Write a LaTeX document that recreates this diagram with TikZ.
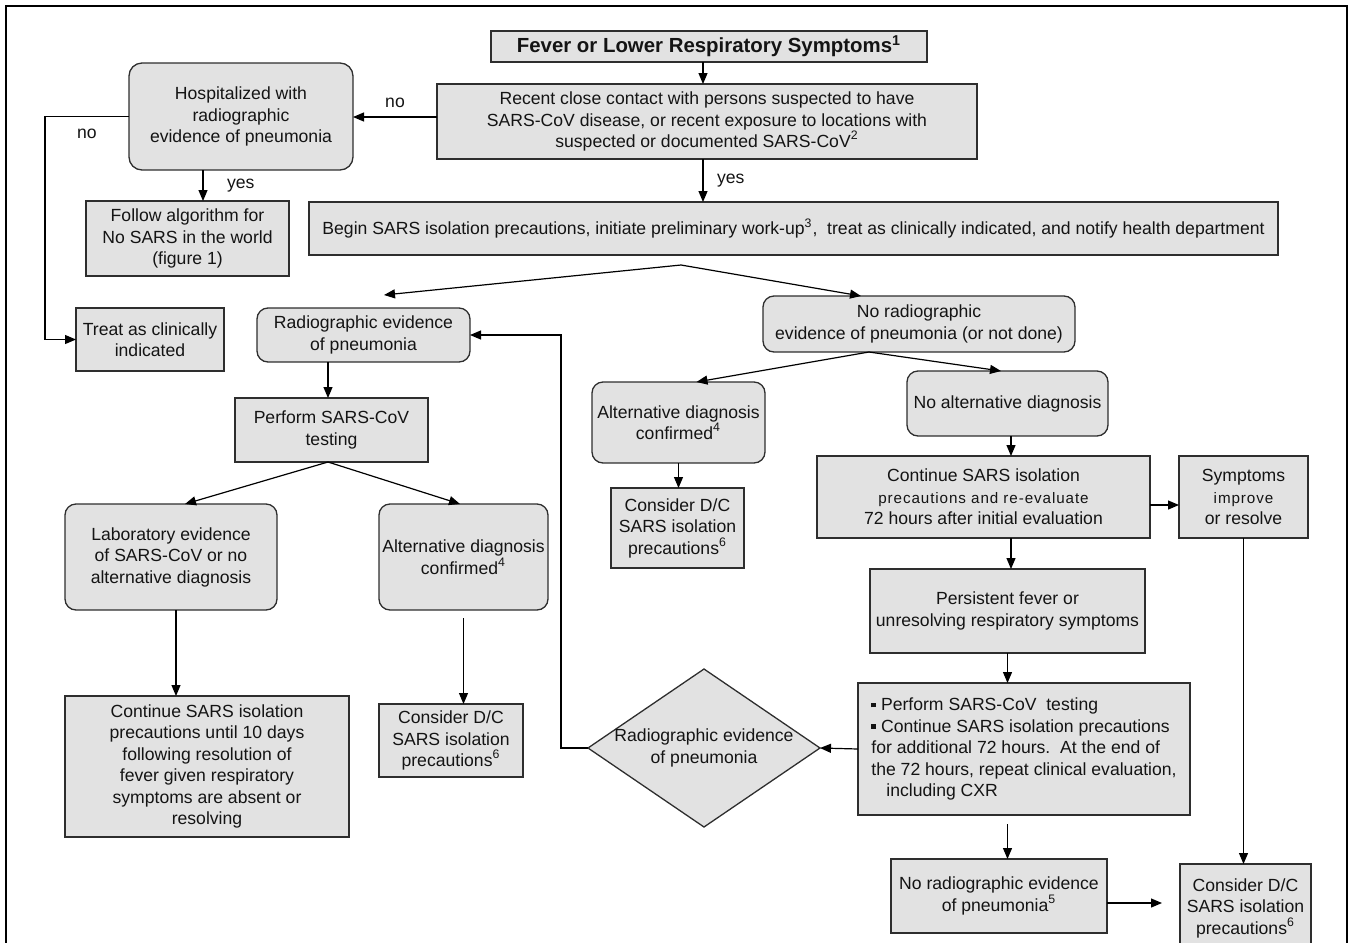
\documentclass[tikz,border=0pt]{standalone}
\usepackage{fontspec}
\setmainfont{Liberation Sans}
\usepackage{xcolor}
\definecolor{BoxFill}{HTML}{E2E2E2}
\definecolor{BoxLine}{HTML}{2E2E2E}
\definecolor{InkText}{HTML}{141414}
\usetikzlibrary{arrows.meta}
\usetikzlibrary{shapes.geometric}

\newcommand{\tighter}{\fontsize{7.6}{10.75}\selectfont\addfontfeature{LetterSpace=6}}
\newcommand{\sqdot}{\rule[1.6pt]{2.4pt}{2.4pt}\ }

\begin{document}
\begin{tikzpicture}[x=0.5pt, y=-0.5pt,
    font=\fontsize{8.8}{10.75}\selectfont,
    text=InkText,
    every node/.style={inner sep=0pt, outer sep=0pt},
    sqbox/.style={shape=rectangle, draw=BoxLine, line width=0.65pt,
      fill=BoxFill, align=center},
    rndbox/.style={sqbox, rounded corners=5.5pt},
    decision/.style={shape=diamond, draw=BoxLine, line width=0.65pt,
      fill=BoxFill},
    arr/.style={-{Triangle[length=5.5pt,width=4.5pt]}, line width=0.6pt, draw=black},
    lbl/.style={font=\fontsize{8.8}{10}\selectfont}]

    \path [use as bounding box] (0,0) rectangle (1351,943);
    \clip (0,0) rectangle (1351,943);

    % outer frame, open at the bottom
    \draw[line width=0.8pt] (6,943) -- (6,6) -- (1347,6) -- (1347,943);

    \node[name=fever, sqbox, minimum width=218pt, minimum height=15.5pt,
      font=\fontsize{10.2}{12}\selectfont\bfseries] at (709,46.5)
      {Fever or Lower Respiratory Symptoms\textsuperscript{1}};

    \node[name=contact, sqbox, minimum width=270pt, minimum height=37.5pt] at (707,121.5)
      {Recent close contact with persons suspected to have\\
       SARS-CoV disease, or recent exposure to locations with\\
       suspected or documented SARS-CoV\textsuperscript{2}};

    \node[name=hosp, rndbox, rounded corners=6.5pt,
      minimum width=112pt, minimum height=53.5pt] at (241,116.5)
      {Hospitalized with\\radiographic\\evidence of pneumonia};

    \node[name=nosars, sqbox, minimum width=101.5pt, minimum height=37.5pt] at (187.5,238.5)
      {Follow algorithm for\\No SARS in the world\\(figure 1)};

    \node[name=isolate, sqbox, minimum width=484.5pt, minimum height=26.5pt] at (793.5,228.5)
      {Begin SARS isolation precautions, initiate preliminary work-up\textsuperscript{3},\ \ treat as clinically indicated, and notify health department};

    \node[name=treat, sqbox, minimum width=74pt, minimum height=31.5pt] at (150,339.5)
      {Treat as clinically\\indicated};

    \node[name=xraypos, rndbox, minimum width=106.5pt, minimum height=27pt] at (363.5,335)
      {Radiographic evidence\\of pneumonia};

    \node[name=xrayneg, rndbox, minimum width=156pt, minimum height=28pt] at (919,324)
      {No radiographic\\evidence of pneumonia (or not done)};

    \node[name=testing, sqbox, minimum width=96.5pt, minimum height=32pt] at (331.5,430)
      {Perform SARS-CoV\\testing};

    \node[name=altdxneg, rndbox, minimum width=86.5pt, minimum height=40.5pt] at (678.5,422.5)
      {Alternative diagnosis\\confirmed\textsuperscript{4}};

    \node[name=noaltdx, rndbox, minimum width=100.5pt, minimum height=32.5pt] at (1007.5,403.5)
      {No alternative diagnosis};

    \node[name=dcneg, sqbox, minimum width=66.5pt, minimum height=40pt] at (677.5,528)
      {Consider D/C\\SARS isolation\\precautions\textsuperscript{6}};

    \node[name=reeval, sqbox, minimum width=166.5pt, minimum height=41pt] at (983.5,497)
      {Continue SARS isolation\\{\tighter precautions and re-evaluate}\\72 hours after initial evaluation};

    \node[name=improve, sqbox, minimum width=64.5pt, minimum height=41pt] at (1243.5,497)
      {Symptoms\\{\tighter improve}\\or resolve};

    \node[name=labpos, rndbox, minimum width=106pt, minimum height=53pt] at (171,557)
      {Laboratory evidence\\of SARS-CoV or no\\alternative diagnosis};

    \node[name=altdxpos, rndbox, minimum width=84.5pt, minimum height=53pt] at (463.5,557)
      {Alternative diagnosis\\confirmed\textsuperscript{4}};

    \node[name=persist, sqbox, minimum width=137.5pt, minimum height=42pt] at (1007.5,611)
      {Persistent fever or\\unresolving respiratory symptoms};

    \node[name=contiso, sqbox, minimum width=142pt, minimum height=70.5pt] at (207,766.5)
      {Continue SARS isolation\\precautions until 10 days\\following resolution of\\
       fever given respiratory\\symptoms are absent or\\resolving};

    \node[name=dcpos, sqbox, minimum width=72pt, minimum height=36.5pt] at (451,740.5)
      {Consider D/C\\SARS isolation\\precautions\textsuperscript{6}};

    \node[name=xraycheck, decision, minimum width=116pt, minimum height=79pt,
      label={[align=center]center:Radiographic evidence\\of pneumonia}] at (704,748) {};

    \node[name=retest, sqbox, align=left, minimum width=166pt, minimum height=66pt] at (1024,749)
      {\sqdot Perform SARS-CoV\ \ testing\\
       \sqdot Continue SARS isolation precautions\\
       for additional 72 hours.\ \ At the end of\\
       the 72 hours, repeat clinical evaluation,\\
       \hspace*{7.5pt}including CXR};

    \node[name=xrayclear, sqbox, minimum width=108pt, minimum height=37pt] at (999,896)
      {No radiographic evidence\\of pneumonia\textsuperscript{5}};

    \node[name=dcfinal, sqbox, minimum width=65.5pt, minimum height=44pt] at (1245.5,908)
      {Consider D/C\\SARS isolation\\precautions\textsuperscript{6}};

    % connectors
    \path ([xshift=-3pt]fever.south) edge[arr] ([xshift=-3pt]fever.south |- contact.north);
    \path ([yshift=2.25pt]contact.west) edge[arr] node[lbl, above=4.5pt] {no}
      ([yshift=2.25pt]contact.west -| hosp.east);
    \path ([xshift=-19pt]hosp.south) edge[arr] node[lbl, right=12pt] {yes}
      ([xshift=-19pt]hosp.south |- nosars.north);
    \draw[arr] (hosp.west) -- node[lbl, below=6.5pt] {no} ++(-84,0) |- (treat.west);
    \path ([xshift=-2pt]contact.south) edge[arr] node[lbl, right=7pt] {yes}
      ([xshift=-2pt]contact.south |- isolate.north);

    \coordinate (fork) at (681,265);
    \path (fork) edge[arr] ([xshift=10.25pt,yshift=6.5pt]xraypos.north)
          (fork) edge[arr] ([xshift=-29pt]xrayneg.north);

    \path ([xshift=-17.75pt]xraypos.south) edge[arr] ([xshift=-17.75pt]xraypos.south |- testing.north);
    \path ([xshift=-1.75pt]testing.south) edge[arr] ([xshift=7pt]labpos.north)
          ([xshift=-1.75pt]testing.south) edge[arr] ([xshift=-1.75pt]altdxpos.north);
    \path ([xshift=2.5pt]labpos.south) edge[arr] ([xshift=2.5pt]labpos.south |- contiso.north);
    \path ([yshift=-4pt]altdxpos.south) edge[arr] (altdxpos.south |- dcpos.north);

    \path ([xshift=-25pt]xrayneg.south) edge[arr] ([xshift=9pt]altdxneg.north)
          ([xshift=-25pt]xrayneg.south) edge[arr] ([xshift=-3.25pt]noaltdx.north);
    \path (altdxneg.south) edge[arr] (altdxneg.south |- dcneg.north);
    \path ([xshift=1.75pt]noaltdx.south) edge[arr] ([xshift=1.75pt]noaltdx.south |- reeval.north);
    \path ([yshift=-4pt]reeval.east) edge[arr] ([yshift=-4pt]reeval.east -| improve.west);
    \path ([xshift=1.75pt]noaltdx.south |- reeval.south) edge[arr] ([xshift=1.75pt]noaltdx.south |- persist.north);
    \path (improve.south) edge[arr] (improve.south |- dcfinal.north);
    \path (persist.south) edge[arr] (persist.south |- retest.north);
    \path (retest.west) edge[arr] (xraycheck.east);
    \draw[arr] (xraycheck.west) -- ++(-27,0) |- (xraypos.east);
    \path ([yshift=-4.5pt]persist.south |- retest.south) edge[arr] (persist.south |- xrayclear.north);
    \path ([yshift=-3.5pt]xrayclear.east) edge[arr] ([yshift=-3.5pt,xshift=-9pt]xrayclear.east -| dcfinal.west);
  \end{tikzpicture}
\end{document}
